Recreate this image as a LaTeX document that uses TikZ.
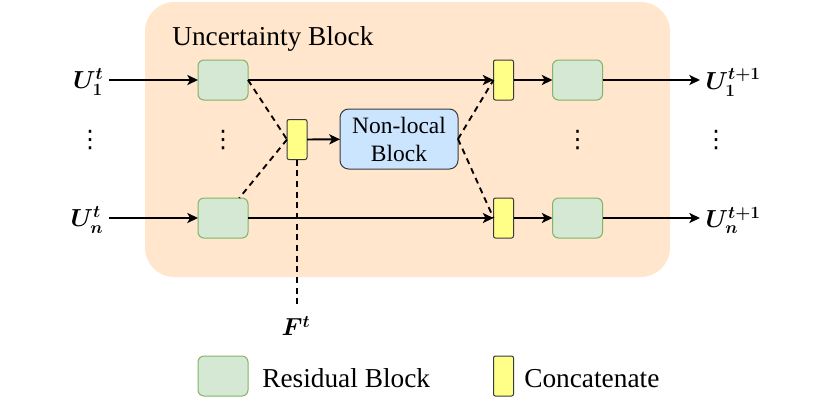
\RequirePackage{fix-cm}
\documentclass[tikz,border=0pt]{standalone}
\usepackage{amsmath,bm}
\usepackage[no-math]{fontspec}
\setmainfont{Liberation Serif}
\newfontfamily\djv{DejaVu Sans}
\usetikzlibrary{arrows.meta}
\definecolor{bgorange}{HTML}{FFE6CC}
\definecolor{resfill}{HTML}{D5E8D4}
\definecolor{resdraw}{HTML}{82B366}
\definecolor{catfill}{HTML}{FFFF88}
\definecolor{darkline}{HTML}{36393D}
\definecolor{nlfill}{HTML}{CCE5FF}
\tikzset{
  resbox/.style={draw=resdraw, fill=resfill, line width=0.75pt, rounded corners=4.5pt,
    minimum width=37.5pt, minimum height=30pt, inner sep=0pt, outer sep=0pt},
  catbox/.style={draw=darkline, fill=catfill, line width=0.75pt, rounded corners=1.5pt,
    minimum width=15pt, minimum height=30pt, inner sep=0pt, outer sep=0pt},
  nlbox/.style={draw=darkline, fill=nlfill, line width=0.75pt, rounded corners=6.5pt,
    minimum width=88.5pt, minimum height=45pt, inner sep=0pt, outer sep=0pt,
    align=center, font=\fontsize{17.6}{21}\selectfont},
  arr/.style={line width=1.4pt, -{Stealth[length=8pt,width=7.5pt,inset=2pt]}},
  dsh/.style={line width=1.4pt, dash pattern=on 4.5pt off 3.5pt},
  mlabel/.style={inner sep=4pt, font=\fontsize{18.5}{22}\selectfont},
  dotsn/.style={inner sep=0pt, font=\djv\fontsize{18}{22}\selectfont},
  txt/.style={inner sep=0pt, font=\fontsize{20.5}{24}\selectfont},
}
\begin{document}
\begin{tikzpicture}[x=0.75pt,y=-0.75pt]
\useasboundingbox (0,0) rectangle (830,405);
% background
\fill[bgorange, rounded corners=22pt] (145,2) rectangle (670,277);
\node[txt, anchor=base west] (title) at (172,45) {Uncertainty Block};
% boxes
\node[resbox] (g1) at (223,80) {};
\node[resbox] (g2) at (223,218) {};
\node[catbox] (c1) at (297,139.5) {};
\node[nlbox] (nl) at (399,139) {Non-local\\Block};
\node[catbox] (c2) at (503.5,80) {};
\node[catbox] (c3) at (503.5,218) {};
\node[resbox] (r1) at (577.5,80) {};
\node[resbox] (r2) at (577.5,218) {};
% labels
\node[mlabel, anchor=east] (u1) at (109,82) {$\bm{U_1^t}$};
\node[mlabel, anchor=east] (un) at (109,220) {$\bm{U_n^t}$};
\node[mlabel, anchor=west] (o1) at (700,82) {$\bm{U_1^{t+1}}$};
\node[mlabel, anchor=west] (on) at (700,220) {$\bm{U_n^{t+1}}$};
\node[mlabel] (ft) at (296,326) {$\bm{F^t}$};
\coordinate (fend) at (297,305);
% vdots
\node[dotsn] (d1) at (90,140) {⋮};
\node[dotsn] (d2) at (223,140) {⋮};
\node[dotsn] (d3) at (577.5,140) {⋮};
\node[dotsn] (d4) at (716,140) {⋮};
% solid arrows
\draw[arr] (u1.east |- g1) -- (g1);
\draw[arr] (un.east |- g2) -- (g2);
\draw[arr] (g1) -- (c2);
\draw[arr] (g2) -- (c3);
\draw[arr] (c2) -- (r1);
\draw[arr] (c3) -- (r2);
\draw[arr] (r1) -- (o1.west |- r1);
\draw[arr] (r2) -- (on.west |- r2);
\draw[arr] (c1) -- (nl);
% dashed
\draw[dsh] (g1.east) -- (c1.west);
\draw[dsh] (c1.west) -- (g2);
\draw[dsh] (c1.south) -- (fend);
\draw[dsh] (nl.east) -- (c2.west);
\draw[dsh] (nl.east) -- (c3.west);
% legend
\node[resbox] (lg) at (223,376) {};
\node[txt, anchor=base west] (lgt) at (262,387) {Residual Block};
\node[catbox] (lc) at (503.5,376) {};
\node[txt, anchor=base west] (lct) at (524,387) {Concatenate};
\end{tikzpicture}
\end{document}
